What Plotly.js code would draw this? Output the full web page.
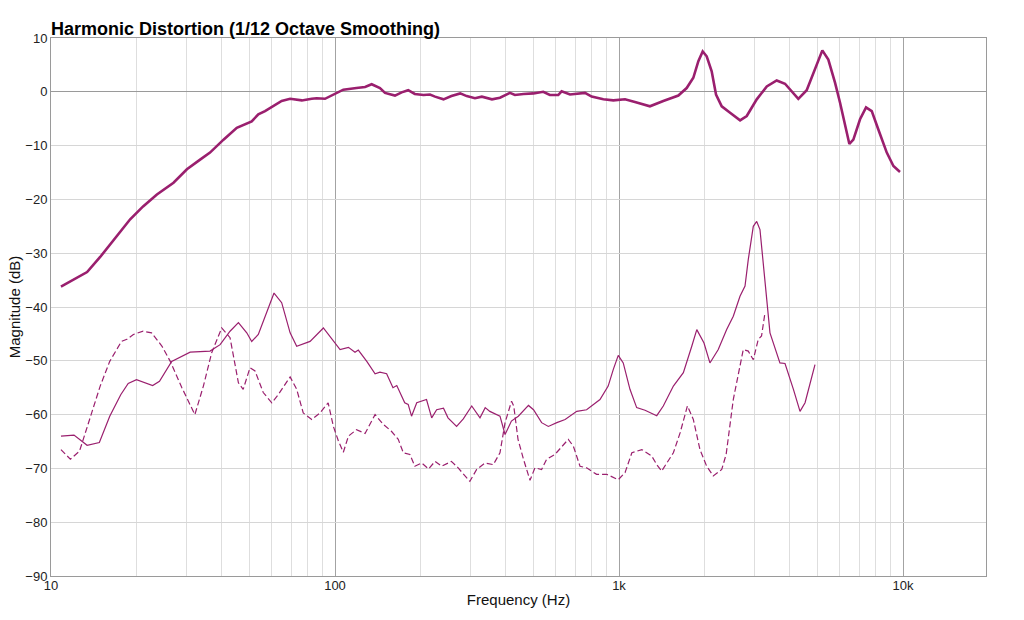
<!DOCTYPE html>
<html>
<head>
<meta charset="utf-8">
<script src="https://cdn.plot.ly/plotly-3.0.1.min.js"></script>
<style>
  html, body { margin: 0; padding: 0; background: #fff; }
  #grafica { width: 1024px; height: 620px; }
</style>
</head>
<body>
<div id="grafica"></div>
<script>
// Fundamental (thick line)
const fundFreq = [10.84, 13.4, 14.9, 16.6, 19.0, 21.1, 23.6, 27.0, 30.1, 33.5, 36.3, 40.5, 45.1, 50.9, 53.7, 56.7,
  60.7, 64.9, 69.5, 76.4, 82.8, 86.2, 92.2, 100, 107, 119, 127.6, 134.6, 144, 150, 162.6, 171.7, 181, 191, 205,
  216, 225, 241, 257, 276, 291, 311, 329, 357, 381, 413, 430, 461, 500, 541, 571, 611, 628, 672, 719, 759, 801,
  881, 955, 1050, 1138, 1285, 1432, 1618, 1731, 1827, 1903, 1971, 2036, 2120, 2196, 2300, 2461, 2669, 2817,
  3055, 3314, 3592, 3842, 4057, 4280, 4580, 4899, 5200, 5458, 5763, 6000, 6251, 6474, 6686, 7059, 7412, 7762,
  8188, 8767, 9252, 9760];
const fundDb = [-36.2, -33.5, -30.7, -27.5, -23.7, -21.3, -19.1, -16.9, -14.4, -12.6, -11.3, -8.9, -6.7, -5.5, -4.2, -3.6,
  -2.7, -1.7, -1.3, -1.6, -1.3, -1.2, -1.3, -0.3, 0.4, 0.7, 0.9, 1.4, 0.7, -0.2, -0.7, -0.1, 0.3, -0.4, -0.6,
  -0.5, -0.9, -1.4, -0.8, -0.3, -0.8, -1.2, -0.9, -1.4, -1.1, -0.2, -0.6, -0.4, -0.3, 0.0, -0.6, -0.6, 0.1, -0.5, -0.4, -0.2, -0.9,
  -1.4, -1.6, -1.4, -1.9, -2.7, -1.7, -0.7, 0.7, 2.6, 5.7, 7.5, 6.6, 3.8, -0.5, -2.7, -3.9, -5.3, -4.5,
  -1.4, 1.0, 2.1, 1.5, 0.1, -1.3, 0.3, 4.1, 7.7, 6.0, 1.7, -2.0, -6.4, -9.7, -8.9, -5.1, -2.9, -3.6,
  -7.0, -11.3, -13.8, -14.9];

// 2nd harmonic (thin solid)
const h2Freq = [10.84, 12.05, 13.4, 14.8, 16.1, 17.6, 18.7, 20.0, 22.8, 24.1, 26.6, 30.9, 36.3, 39.4, 42.7, 45.7,
  48.9, 50.9, 53.7, 57.5, 61.0, 64.9, 69.5, 73.3, 81.7, 91.0, 98.7, 104.2, 111.5, 117.6, 120.8, 129.4, 138.4,
  144, 152, 160, 165, 176, 181, 186, 194, 202, 210, 219, 228, 241, 250, 268, 283, 303, 324, 338, 351, 381,
  397, 418, 442, 480, 500, 534, 564, 604, 646, 710, 769, 857, 916, 955, 994, 1035, 1093, 1154, 1235, 1358,
  1432, 1554, 1685, 1804, 1879, 1992, 2090, 2236, 2394, 2526, 2667, 2778, 2852, 2971, 3054, 3136, 3266, 3401,
  3687, 3842, 4113, 4339, 4520, 4899];
const h2Db = [-64.0, -63.8, -65.7, -65.2, -60.3, -56.3, -54.2, -53.5, -54.6, -53.8, -50.1, -48.4, -48.2, -47.0, -44.5, -42.9,
  -44.8, -46.4, -45.1, -41.1, -37.4, -39.2, -44.8, -47.3, -46.4, -43.9, -46.4, -47.9, -47.5, -48.4, -48.0, -50.1, -52.4,
  -52.1, -52.4, -55.0, -54.6, -57.8, -58.1, -60.3, -57.8, -57.5, -57.2, -60.6, -59.1, -58.8, -60.6, -62.2, -60.8, -58.4, -60.6, -58.7, -59.4, -60.3,
  -63.7, -61.2, -60.3, -58.3, -59.1, -61.5, -62.2, -61.5, -60.9, -59.4, -59.1, -57.2, -54.7, -51.6, -49.0, -50.4, -55.3, -58.7, -59.2, -60.2,
  -58.4, -54.7, -52.2, -47.3, -44.2, -46.7, -50.4, -47.9, -44.2, -41.7, -38.0, -36.1, -31.2, -25.0, -24.1, -25.6, -35.5, -44.8,
  -50.4, -50.5, -55.3, -59.4, -57.8, -50.7];

// 3rd harmonic (thin dashed)
const h3Freq = [10.84, 11.7, 12.6, 13.7, 14.9, 16.1, 17.7, 18.5, 19.5, 21.1, 22.6, 24.6, 26.3, 28.9, 32.1, 34.4,
  36.8, 39.9, 42.7, 45.7, 47.5, 50.2, 52.3, 55.9, 59.9, 63.1, 69.5, 73.3, 77.3, 82.8, 88.5, 94.6, 98.7, 102.8,
  107, 111.5, 119, 127.6, 138.4, 147.8, 158, 167, 174, 183.5, 191, 202, 213.5, 225, 237.5, 257, 271.5, 287,
  298.5, 315.3, 337.5, 361, 381, 397, 418.5, 426, 441, 461, 486, 506, 534, 556, 595, 663, 691, 729, 769, 834,
  905, 994, 1050, 1110, 1203, 1304, 1358, 1413, 1471, 1554, 1641, 1741, 1827, 1928, 2036, 2147, 2300, 2384,
  2526, 2630, 2739, 2852, 2971, 3093, 3176, 3266];
const h3Db = [-66.5, -68.3, -66.8, -60.9, -54.7, -50.1, -46.4, -46.0, -45.1, -44.5, -44.8, -47.3, -50.1, -55.0, -60.0, -54.7,
  -48.5, -43.9, -45.7, -54.1, -55.3, -51.3, -51.9, -55.9, -57.8, -56.3, -53.0, -55.3, -59.7, -60.9, -59.7, -57.8, -62.2, -64.9,
  -67.0, -64.0, -62.8, -63.5, -60.0, -61.8, -63.1, -64.6, -67.1, -67.4, -69.6, -69.0, -70.1, -68.7, -69.6, -68.7, -69.9, -71.4,
  -72.4, -70.2, -69.0, -69.3, -67.1, -61.5, -57.5, -58.4, -64.6, -68.3, -72.2, -69.9, -70.2, -68.3, -67.4, -64.6, -65.9, -69.6, -69.9, -71.1,
  -71.1, -72.1, -70.8, -67.1, -66.5, -67.7, -69.3, -70.5, -69.0, -67.1, -63.4, -58.4, -60.9, -66.5, -69.6, -71.4, -70.2, -67.4,
  -57.2, -52.2, -47.9, -48.2, -49.8, -46.0, -45.4, -41.1];

const ticksX = [10, 100, 1000, 10000];
const ticksXTexto = ['10', '100', '1k', '10k'];
const ticksMenores = [20, 30, 40, 50, 60, 70, 80, 90, 200, 300, 400, 500, 600, 700, 800, 900,
  2000, 3000, 4000, 5000, 6000, 7000, 8000, 9000];

const color = '#9a1f6e';
const fuente = 'Liberation Sans, Arial, Helvetica, sans-serif';

const trazas = [
  { x: h3Freq, y: h3Db, type: 'scatter', mode: 'lines', line: { color: color, width: 1.2, dash: '6px,3px' } },
  { x: h2Freq, y: h2Db, type: 'scatter', mode: 'lines', line: { color: color, width: 1.2 } },
  { x: fundFreq, y: fundDb, type: 'scatter', mode: 'lines', line: { color: color, width: 2.6 } }
];

const layout = {
  width: 1024,
  height: 620,
  showlegend: false,
  paper_bgcolor: '#fff',
  plot_bgcolor: '#fff',
  font: { family: fuente, color: '#111', size: 13 },
  title: {
    text: '<b>Harmonic Distortion (1/12 Octave Smoothing)</b>',
    font: { family: fuente, size: 18, color: '#000' },
    xref: 'container', x: 51 / 1024, xanchor: 'left',
    yref: 'container', y: 1 - 29 / 620, yanchor: 'middle'
  },
  margin: { l: 51, r: 38, t: 38, b: 44 },
  xaxis: {
    type: 'log',
    range: [1, Math.log10(19600)],
    tickmode: 'array',
    tickvals: ticksX,
    ticktext: ticksXTexto,
    ticks: '',
    ticklabelstandoff: -3,
    showgrid: true,
    gridcolor: '#a3a3a3',
    gridwidth: 1,
    minor: { tickmode: 'array', tickvals: ticksMenores, showgrid: true, gridcolor: '#dedede', gridwidth: 1, ticks: '' },
    showline: true,
    linecolor: '#9a9a9a',
    mirror: true,
    zeroline: false,
    tickfont: { size: 13, color: '#222' },
    title: { text: 'Frequency (Hz)', font: { size: 15, color: '#111' }, standoff: 2 }
  },
  yaxis: {
    range: [-90, 10],
    tickmode: 'linear',
    tick0: -90,
    dtick: 10,
    ticks: '',
    showgrid: true,
    gridcolor: '#d6d6d6',
    zeroline: true,
    zerolinecolor: '#9a9a9a',
    zerolinewidth: 1,
    showline: true,
    linecolor: '#9a9a9a',
    mirror: true,
    tickfont: { size: 13, color: '#222' },
    title: { text: 'Magnitude (dB)', font: { size: 15, color: '#111' }, standoff: 1 }
  }
};

Plotly.newPlot('grafica', trazas, layout, { displayModeBar: false, staticPlot: true });
</script>
</body>
</html>
